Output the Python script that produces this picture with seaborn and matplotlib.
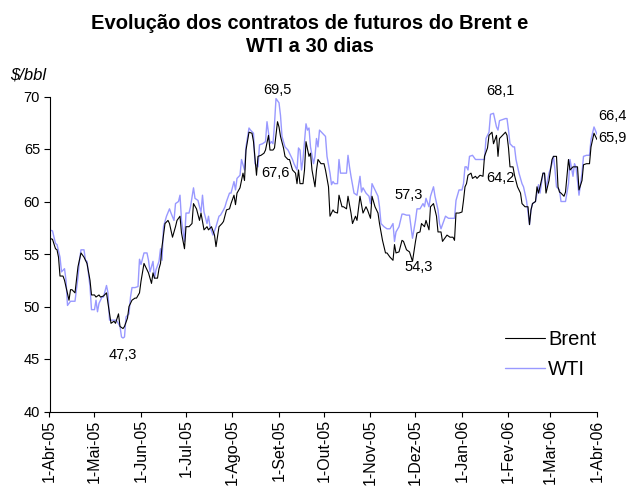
import matplotlib
matplotlib.use("Agg")
import matplotlib.pyplot as plt
import seaborn as sns
import pandas as pd

# ---------------- data ----------------
start = pd.Timestamp("2005-04-01")
end = pd.Timestamp("2006-04-01")

# days since 1-Apr-05
brent_day = [0, 2, 4, 5, 6, 7, 9, 10, 13, 14, 15, 17, 19, 21, 23, 25, 27, 28, 30, 31,
             33, 34, 36, 38, 39, 41, 43, 44, 46, 47, 49, 50, 52, 53, 55, 57, 58, 60, 61, 63,
             64, 66, 68, 69, 70, 72, 73, 74, 75, 77, 79, 80, 82, 84, 85, 87, 88, 90, 91, 93,
             95, 96, 98, 100, 101, 103, 105, 106, 108, 110, 111, 113, 115, 116, 118, 120, 121, 123, 124, 125,
             127,
             129, 130, 131, 133, 135, 136, 138, 139, 141, 143, 144, 146, 147, 149, 150, 152, 153, 154, 156, 157,
             159, 160, 162, 164, 165, 166, 167, 169, 170, 171, 173, 174, 175, 177, 178, 179, 181, 183, 184, 186,
             187, 189, 190, 192, 193, 195, 196, 198, 199, 201, 202, 204, 205, 207, 209, 211, 212, 214, 215, 217,
             219, 220, 222, 224, 225, 227, 229, 230, 231, 233, 235, 236, 238, 240, 242, 244, 245, 247,
             248, 250, 251, 253, 254, 256, 258, 259, 261, 262, 264, 265, 267, 269, 270, 271, 273, 275, 276, 277,
             278, 279, 281, 282, 284, 285, 287, 289, 290, 292, 293, 295, 296, 298, 299, 300, 302, 304, 305, 306,
             307, 309, 310, 312, 314, 315, 317, 319, 320, 321, 322, 324, 325, 326, 327, 329, 330, 331, 333, 335,
             336, 338, 339, 340, 341, 343, 344, 346, 347, 349, 350, 352, 353, 355, 356, 358, 360, 361, 363, 365]
brent_val = [56.5, 56.4, 55.5, 55.4, 54.7, 52.9, 52.9, 52.5, 50.6, 51.6, 51.6, 51.3, 53.8, 55.1, 54.7, 54.1, 52.5, 51.1, 51.1, 50.9,
             51.1, 50.9, 51.0, 51.3, 50.3, 48.4, 48.6, 48.4, 49.3, 48.1, 47.9, 48.1, 48.9, 50.0, 50.6, 50.8, 50.8, 51.3, 52.4, 54.1,
             53.8, 53.2, 52.2, 53.2, 52.7, 52.7, 53.6, 54.1, 55.7, 57.9, 58.2, 57.9, 56.6, 57.6, 58.2, 58.6, 57.0, 55.5, 57.6, 57.6,
             57.9, 59.8, 59.3, 58.2, 58.9, 57.3, 57.6, 57.3, 57.6, 56.8, 55.7, 57.6, 57.9, 58.1, 59.2, 59.3, 59.8, 60.6, 59.7, 60.8,
             61.3,
             62.7, 62.0, 64.9, 66.6, 66.5, 65.7, 62.5, 64.3, 64.4, 64.6, 64.9, 66.3, 64.9, 64.9, 65.1, 67.6, 67.1, 66.2, 65.1, 64.3,
             64.0, 64.0, 63.0, 62.7, 61.7, 63.0, 61.7, 61.7, 63.0, 65.7, 64.3, 64.6, 63.0, 61.4, 63.0, 64.0, 63.6, 63.6, 63.0, 61.4,
             58.6, 59.2, 59.0, 58.9, 60.6, 59.5, 59.5, 59.3, 60.5, 58.9, 57.9, 58.6, 58.2, 60.5, 58.9, 59.5, 59.2, 58.4, 60.5, 59.5,
             58.9, 57.9, 56.3, 55.1, 55.1, 54.7, 54.4, 55.9, 55.1, 55.2, 56.3, 56.2, 55.4, 55.2, 54.3, 56.2, 57.0, 57.1,
             57.9, 57.6, 58.2, 57.3, 59.5, 59.8, 58.6, 57.1, 57.1, 56.2, 56.6, 56.8, 56.6, 56.6, 56.3, 58.9, 58.9, 59.0, 60.1, 61.4,
             61.7, 62.5, 62.7, 62.2, 62.4, 62.2, 62.5, 62.4, 64.3, 65.1, 66.3, 66.6, 65.5, 66.3, 64.3, 66.0, 66.3, 66.6, 66.3, 65.1,
             63.3, 63.3, 62.5, 61.4, 60.8, 59.8, 59.5, 59.5, 57.8, 59.2, 59.8, 60.0, 61.4, 60.8, 61.4, 62.7, 62.7, 60.8, 62.0, 64.0,
             64.3, 64.3, 61.4, 60.9, 60.8, 60.5, 60.9, 64.0, 63.0, 63.3, 63.3, 63.3, 61.1, 62.0, 63.5, 63.6, 63.6, 65.2, 66.5, 65.9]

wti_day = [0, 2, 4, 5, 7, 8, 10, 11, 12, 14, 15, 17, 19, 20, 21, 23, 24, 25, 27, 28,
           30, 31, 32, 33, 35, 36, 38, 39, 40, 42, 44, 45, 47, 48, 49, 50, 51, 53, 54, 55,
           57, 59, 60, 61, 63, 65, 66, 67, 69, 70, 71, 73, 74, 75, 76, 78, 80, 81, 83, 84,
           86, 87, 88, 90, 91, 93, 94, 96, 97, 99, 100, 101, 102, 103, 105, 106, 107, 109, 111, 113,
           114, 116, 117, 118, 120, 121, 123, 124, 125, 127,
           128, 130, 131, 133, 134, 136, 137, 139, 140, 142, 144, 145, 147, 148, 149, 150, 151, 153, 154, 155,
           157, 159, 160, 162, 163, 165, 166, 167, 168, 169, 171, 172, 173, 174, 176, 177, 178, 179, 180, 182,
           184, 185, 187, 188, 189, 190, 192, 193, 194, 196, 198, 199, 200, 201, 203, 205, 207, 208, 209, 211,
           213, 214, 215, 217, 219, 220, 221, 223, 225, 227, 229, 230, 231, 233, 235, 236, 238, 240, 242, 244,
           245, 247,
           249, 250, 251, 253, 254, 256, 257, 259, 260, 261, 263, 264, 266, 268, 270, 271, 273, 275, 276, 277,
           278, 279, 280, 282, 284, 286, 288, 290, 291, 293, 294, 296, 298, 299, 300, 302, 304, 305, 306, 307,
           309, 310, 311, 313, 315, 316, 318, 320, 321, 322, 324, 325, 326, 327, 329, 330, 331, 333, 335, 336,
           337, 338, 340, 341, 343, 344, 346, 347, 349, 350, 351, 353, 355, 356, 358, 360, 361, 363, 365]
wti_val = [57.3, 57.2, 56.0, 55.9, 54.7, 53.3, 53.6, 52.5, 50.1, 50.5, 50.5, 50.5, 52.8, 54.4, 55.4, 55.4, 54.4, 54.3, 51.9, 49.7,
           49.7, 50.6, 49.5, 50.3, 50.9, 50.9, 52.0, 51.3, 48.7, 48.7, 48.7, 48.6, 48.1, 47.1, 47.0, 47.1, 49.0, 49.3, 50.9, 51.8,
           51.8, 51.9, 54.5, 54.0, 55.1, 55.1, 54.4, 53.3, 54.3, 52.7, 53.5, 54.3, 55.5, 54.4, 57.6, 58.6, 59.3, 58.9, 58.2, 59.8,
           60.0, 60.6, 58.2, 56.2, 58.9, 58.9, 59.5, 61.3, 60.3, 60.1, 59.5, 59.0, 60.6, 59.0, 57.9, 58.6, 57.6, 56.8, 57.6, 58.6,
           58.7, 59.2, 59.5, 60.0, 60.8, 60.8, 61.9, 61.1, 62.2, 62.5,
           64.0, 63.0, 65.2, 67.0, 66.8, 66.5, 63.6, 63.3, 65.4, 65.5, 65.7, 67.6, 65.5, 65.7, 65.5, 67.4, 69.8, 69.4, 68.2, 66.2,
           65.2, 64.9, 64.6, 64.0, 63.6, 63.0, 65.1, 64.9, 63.0, 64.0, 67.4, 66.8, 67.0, 65.2, 63.6, 64.3, 66.0, 65.2, 66.8, 66.5,
           66.2, 64.3, 62.7, 61.6, 61.9, 61.7, 61.7, 64.0, 62.7, 62.7, 62.7, 64.4, 63.3, 62.4, 60.8, 60.6, 62.4, 60.9, 61.3, 60.8,
           60.5, 59.8, 61.7, 61.1, 60.5, 59.5, 57.9, 57.6, 57.4, 57.4, 57.9, 56.2, 57.1, 57.6, 58.8, 58.8, 58.7, 58.7, 56.5, 58.2,
           59.3, 59.3,
           59.8, 59.5, 60.3, 59.5, 60.5, 61.4, 60.5, 59.2, 57.9, 57.4, 58.2, 58.6, 58.4, 58.4, 58.4, 60.1, 61.1, 61.1, 61.7, 63.3,
           63.3, 63.0, 64.3, 64.4, 64.0, 64.0, 64.0, 64.0, 66.0, 66.6, 68.3, 68.4, 67.1, 66.8, 67.7, 67.8, 67.9, 67.9, 66.8, 65.5,
           65.2, 65.2, 64.0, 62.7, 61.7, 61.4, 60.1, 57.8, 59.2, 59.8, 60.0, 60.8, 61.6, 60.8, 62.7, 62.7, 61.3, 62.7, 63.6, 64.3,
           63.0, 61.4, 61.1, 60.0, 60.0, 60.0, 61.7, 64.0, 62.4, 63.6, 63.3, 60.6, 62.7, 64.3, 64.4, 64.4, 65.9, 67.1, 66.4]

month_labels = ["1-Abr-05", "1-Mai-05", "1-Jun-05", "1-Jul-05", "1-Ago-05", "1-Set-05",
                "1-Out-05", "1-Nov-05", "1-Dez-05", "1-Jan-06", "1-Fev-06", "1-Mar-06", "1-Abr-06"]
yticks = [40, 45, 50, 55, 60, 65, 70]

annot_text = ["69,5", "67,6", "57,3", "54,3", "47,3", "68,1", "64,2", "66,4", "65,9"]

# ---------------- layout (label positions: day offset, y in $/bbl) ----------------
annot_pos = [(151.7, 70.6), (150.9, 62.7), (239.2, 60.6), (245.9, 53.8), (49.0, 45.4),
             (300.3, 70.5), (300.3, 62.2), (375.0, 68.1), (375.0, 66.0)]

sns.set_style("ticks")
plt.rcParams["font.family"] = ["Liberation Sans", "DejaVu Sans"]
plt.rcParams["text.color"] = "black"

df = pd.concat([
    pd.DataFrame({"data": start + pd.to_timedelta(brent_day, unit="D"), "valor": brent_val, "serie": "Brent"}),
    pd.DataFrame({"data": start + pd.to_timedelta(wti_day, unit="D"), "valor": wti_val, "serie": "WTI"}),
], ignore_index=True)

fig = plt.figure(figsize=(6.28, 4.88), dpi=100)
ax = fig.add_axes([49.5 / 628, 1 - 411.5 / 488, (597 - 49.5) / 628, (411.5 - 96.5) / 488])

palette = {"Brent": "#000000", "WTI": "#9999FF"}
sns.lineplot(data=df[df.serie == "WTI"], x="data", y="valor", color=palette["WTI"],
             lw=1.0, estimator=None, ax=ax, label="WTI")
sns.lineplot(data=df[df.serie == "Brent"], x="data", y="valor", color=palette["Brent"],
             lw=0.8, estimator=None, ax=ax, label="Brent")

ax.set_xlim(start, end)
ax.set_ylim(40, 70)
ax.set_yticks(yticks)
ax.set_yticklabels([str(v) for v in yticks], fontsize=10.5)
mticks = pd.date_range(start, end, freq="MS")
ax.set_xticks(mticks)
ax.set_xticklabels(month_labels, rotation=90, fontsize=11.5)
ax.set_xlabel("")
ax.set_ylabel("")
for s in ["top", "right"]:
    ax.spines[s].set_visible(False)
for s in ["left", "bottom"]:
    ax.spines[s].set_linewidth(0.8)
    ax.spines[s].set_color("black")
ax.tick_params(axis="y", length=4.3, width=0.8, color="black", pad=2.5, labelcolor="black")
ax.tick_params(axis="x", length=3.6, width=0.8, color="black", pad=2, labelcolor="black")
ax.grid(False)

for txt, (d, v) in zip(annot_text, annot_pos):
    ax.text(start + pd.Timedelta(days=d), v, txt, ha="center", va="center",
            fontsize=10.5, color="black", clip_on=False)

h, l = ax.get_legend_handles_labels()
order = [l.index("Brent"), l.index("WTI")]
leg = ax.legend([h[i] for i in order], [l[i] for i in order], loc="upper left",
                bbox_to_anchor=(0.832, 0.259), frameon=False, fontsize=14.5,
                handlelength=2.0, handletextpad=0.15, labelspacing=0.54,
                borderpad=0, borderaxespad=0)
for t in leg.get_texts():
    t.set_color("black")

fig.text(310 / 628, 1 - 35 / 488, "Evolução dos contratos de futuros do Brent e\nWTI a 30 dias",
         ha="center", va="center", fontsize=14.5, fontweight="bold", linespacing=1.3, color="black")
fig.text(10 / 628, 1 - 75 / 488, r"\$/bbl", ha="left", va="center", fontsize=12, style="italic",
         color="black")

fig.savefig("out.png", dpi=100)
